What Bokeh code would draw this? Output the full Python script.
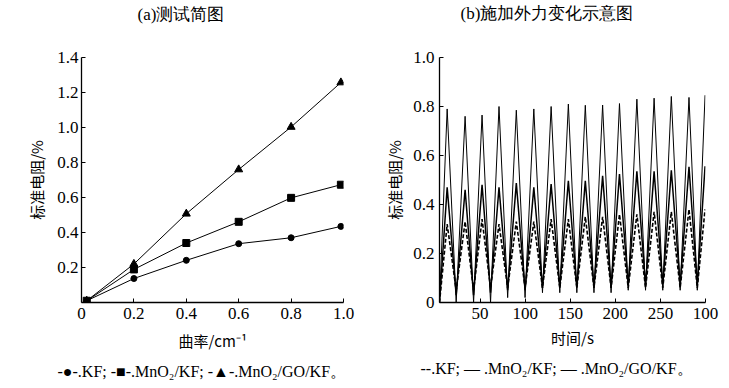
from bokeh.plotting import figure
from bokeh.models import Range1d, FixedTicker, Title, PrintfTickFormatter
from bokeh.layouts import row
from bokeh.embed import file_html
from bokeh.resources import INLINE

# ---- panel (a) data ----
curvature = [0.02, 0.2, 0.4, 0.6, 0.8, 0.99]
kf_a = [0.01, 0.137, 0.241, 0.336, 0.37, 0.435]
mno2_kf_a = [0.01, 0.189, 0.34, 0.461, 0.598, 0.673]
mno2_go_kf_a = [0.01, 0.22, 0.507, 0.76, 1.003, 1.257]

# ---- panel (b) data: alternating trough / peak readings ----
time_b = [5, 13.5, 23.5, 33.4, 42.8, 52.2, 61.6, 71.0, 80.6, 90.2, 99.9, 109.6,
          119.2, 128.8, 138.4, 147.9, 157.3, 166.7, 176.3, 185.9, 195.3, 204.6,
          214.3, 223.9, 233.5, 243.0, 252.6, 262.1, 271.9, 281.7, 290.9, 299.5]
mno2_go_kf_b = [0.0, 0.79, 0.0, 0.76, 0.0, 0.765, 0.0, 0.80, 0.02, 0.785, 0.02, 0.79,
                0.04, 0.80, 0.04, 0.81, 0.04, 0.805, 0.04, 0.806, 0.04, 0.812,
                0.05, 0.83, 0.05, 0.834, 0.05, 0.841, 0.05, 0.837, 0.05, 0.846]
mno2_kf_b = [0.0, 0.47, 0.03, 0.46, 0.03, 0.48, 0.04, 0.47, 0.05, 0.487, 0.05, 0.47,
             0.06, 0.483, 0.06, 0.497, 0.06, 0.497, 0.06, 0.517, 0.06, 0.524,
             0.07, 0.535, 0.07, 0.535, 0.07, 0.54, 0.07, 0.554, 0.07, 0.556]
kf_b = [0.0, 0.32, 0.05, 0.33, 0.05, 0.34, 0.06, 0.32, 0.06, 0.33, 0.06, 0.33,
        0.06, 0.34, 0.06, 0.34, 0.06, 0.35, 0.06, 0.35, 0.06, 0.36,
        0.06, 0.36, 0.06, 0.37, 0.06, 0.37, 0.06, 0.38, 0.06, 0.38]

x_ticks_a = [0, 0.2, 0.4, 0.6, 0.8, 1.0]
y_ticks_a = [0.2, 0.4, 0.6, 0.8, 1.0, 1.2, 1.4]
x_ticks_b = [50, 100, 150, 200, 250, 300]
y_ticks_b = [0, 0.2, 0.4, 0.6, 0.8, 1.0]

SERIF = "'Liberation Serif'"
CJK = "'Noto Sans CJK SC'"


def style(p):
    p.xgrid.grid_line_color = None
    p.ygrid.grid_line_color = None
    p.outline_line_color = None
    p.background_fill_color = "white"
    p.border_fill_color = "white"
    for ax in (p.xaxis[0], p.yaxis[0]):
        ax.axis_line_width = 1.3
        ax.axis_line_color = "black"
        ax.major_tick_in = 4
        ax.major_tick_out = 0
        ax.minor_tick_in = 0
        ax.minor_tick_out = 0
        ax.major_tick_line_color = "black"
        ax.major_label_text_font = SERIF
        ax.major_label_text_font_size = "17px"
        ax.major_label_text_color = "black"
        ax.axis_label_text_font = CJK
        ax.axis_label_text_font_size = "15px"
        ax.axis_label_text_font_style = "normal"
        ax.axis_label_text_color = "black"


def head(p, text, offset, gap):
    # blank spacer next to the frame (added first), heading stacked above it
    p.add_layout(Title(text=" ", text_color="white", standoff=gap, text_font=SERIF,
                       text_font_size="17px"), "above")
    p.add_layout(Title(text=text, align="left", offset=offset, standoff=0,
                       text_font=SERIF, text_font_size="17px",
                       text_font_style="normal", text_color="black"), "above")


# ---------------- panel (a) ----------------
p1 = figure(width=370, height=388, output_backend="svg", toolbar_location=None,
            x_range=Range1d(0, 1.0), y_range=Range1d(0, 1.4),
            min_border_left=81, min_border_right=27, min_border_top=56,
            min_border_bottom=86)
style(p1)
head(p1, "(a)测试简图", 56, 13)
p1.xaxis.ticker = FixedTicker(ticks=x_ticks_a)
p1.yaxis.ticker = FixedTicker(ticks=y_ticks_a)
p1.xaxis.formatter = PrintfTickFormatter(format="%.1f")
p1.yaxis.formatter = PrintfTickFormatter(format="%.1f")
p1.xaxis.major_label_overrides = {0: "0"}
p1.xaxis.axis_label = "曲率/cm⁻¹"
p1.yaxis.axis_label = "标准电阻/%"
p1.xaxis.major_label_standoff = 5
p1.yaxis.major_label_standoff = 3
p1.yaxis.axis_label_standoff = 7
p1.xaxis.axis_label_standoff = 8

p1.line(curvature, kf_a, line_color="black", line_width=1)
p1.scatter(curvature, kf_a, marker="circle", size=6, color="black")
p1.line(curvature, mno2_kf_a, line_color="black", line_width=1)
p1.scatter(curvature, mno2_kf_a, marker="square", size=7, color="black")
p1.line(curvature, mno2_go_kf_a, line_color="black", line_width=1)
p1.scatter(curvature, mno2_go_kf_a, marker="triangle", size=8, color="black")

p1.add_layout(Title(text="-●-.KF; -■-.MnO₂/KF; -▲-.MnO₂/GO/KF。", align="left",
                    offset=-24, standoff=15, text_color="black",
                    text_font=SERIF, text_font_size="16px", text_font_style="normal"),
              "below")

# ---------------- panel (b) ----------------
p2 = figure(width=359, height=388, output_backend="svg", toolbar_location=None,
            x_range=Range1d(5, 300), y_range=Range1d(0, 1.0),
            min_border_left=69, min_border_right=24, min_border_top=57,
            min_border_bottom=86)
style(p2)
head(p2, "(b)施加外力变化示意图", 21, 14)
p2.xaxis.ticker = FixedTicker(ticks=x_ticks_b)
p2.yaxis.ticker = FixedTicker(ticks=y_ticks_b)
p2.yaxis.formatter = PrintfTickFormatter(format="%.1f")
p2.xaxis.major_label_overrides = {300: "100"}
p2.yaxis.major_label_overrides = {0: "0"}
p2.xaxis.axis_label = "时间/s"
p2.yaxis.axis_label = "标准电阻/%"
p2.xaxis.major_label_standoff = 5
p2.yaxis.major_label_standoff = 5
p2.yaxis.axis_label_standoff = 5
p2.xaxis.axis_label_standoff = 5

p2.line(time_b, kf_b, line_color="black", line_width=1.6, line_dash="4 2")
p2.line(time_b, mno2_kf_b, line_color="black", line_width=1.5)
p2.line(time_b, mno2_go_kf_b, line_color="black", line_width=1)

p2.add_layout(Title(text="--.KF; — .MnO₂/KF; — .MnO₂/GO/KF。", align="left",
                    offset=-19, standoff=15, text_color="black",
                    text_font=SERIF, text_font_size="16px", text_font_style="normal"),
              "below")

layout = row(p1, p2)
open("out.html", "w").write(file_html(layout, INLINE))
